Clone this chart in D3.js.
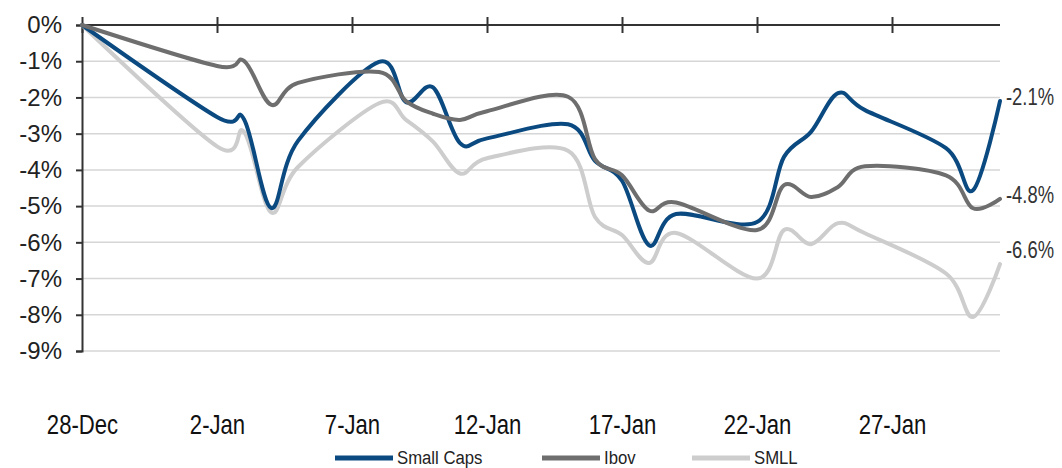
<!DOCTYPE html>
<head>
    <meta charset="utf-8">
    <script src="https://d3js.org/d3.v7.min.js"></script>
    <style>
        body { margin: 0; background: #fff; }
        svg { display: block; }
    </style>
</head>
<body>
    <script>
        // daily closes, % change since 28-Dec
        const dates = ["2017-12-28", "2018-01-02", "2018-01-03", "2018-01-04", "2018-01-05", "2018-01-08",
            "2018-01-09", "2018-01-10", "2018-01-11", "2018-01-12", "2018-01-15", "2018-01-16", "2018-01-17",
            "2018-01-18", "2018-01-19", "2018-01-22", "2018-01-23", "2018-01-24", "2018-01-25", "2018-01-26",
            "2018-01-29", "2018-01-30", "2018-01-31"];
        const smallCaps = [0, -2.54, -2.6, -5.05, -3.2, -1.02, -2.13, -1.72, -3.26, -3.13, -2.74, -3.75, -4.3,
            -6.08, -5.22, -5.44, -3.64, -2.95, -1.88, -2.35, -3.4, -4.56, -2.1];
        const ibov = [0, -1.13, -0.99, -2.2, -1.6, -1.3, -2.1, -2.45, -2.62, -2.38, -1.98, -3.7, -4.15,
            -5.12, -4.9, -5.66, -4.42, -4.75, -4.47, -3.9, -4.15, -5.06, -4.8];
        const smll = [0, -3.35, -2.95, -5.17, -3.92, -2.16, -2.62, -3.22, -4.1, -3.68, -3.47, -5.3, -5.8,
            -6.57, -5.74, -7.0, -5.66, -6.05, -5.47, -5.75, -6.86, -8.06, -6.6];
        const seriesNames = ["Small Caps", "Ibov", "SMLL"];
        const seriesColors = ["#0b4a80", "#6e6e6e", "#cdcdcd"];
        const endLabels = ["-2.1%", "-4.8%", "-6.6%"];
        const yTicks = [0, -1, -2, -3, -4, -5, -6, -7, -8, -9];
        const xTickDates = ["2017-12-28", "2018-01-02", "2018-01-07", "2018-01-12", "2018-01-17", "2018-01-22", "2018-01-27"];

        const parse = d3.timeParse("%Y-%m-%d");
        const W = 1062, H = 468;
        const font = "Liberation Sans, Arial, sans-serif";

        // squeeze text horizontally (the original uses a narrow face)
        function narrow(sel, k) {
            sel.each(function () {
                const t = d3.select(this);
                const tx = +t.attr("x") || 0, ty = +t.attr("y") || 0;
                t.attr("x", 0).attr("y", 0)
                    .attr("transform", "translate(" + tx + "," + ty + ") scale(" + k + ",1)");
            });
        }

        const svg = d3.select("body").append("svg").attr("width", W).attr("height", H);

        const x = d3.scaleTime()
            .domain([parse("2017-12-28"), parse("2018-01-31")])
            .range([82, 1000]);
        const y = d3.scaleLinear().domain([0, -9]).range([25, 351]);

        // gridlines
        svg.append("g")
            .selectAll("line")
            .data(yTicks.slice(1))
            .enter().append("line")
            .attr("x1", x.range()[0]).attr("x2", x.range()[1])
            .attr("y1", d => y(d)).attr("y2", d => y(d))
            .attr("stroke", "#d6d6d6")
            .attr("stroke-width", 1.5);

        // y axis
        const yAxis = svg.append("g")
            .attr("transform", "translate(82,0)")
            .call(d3.axisLeft(y).tickValues(yTicks).tickSize(6).tickPadding(14).tickFormat(d => d + "%"));
        yAxis.select(".domain").attr("stroke", "#333").attr("stroke-width", 2);
        yAxis.selectAll(".tick line").attr("stroke", "#333").attr("stroke-width", 2);
        yAxis.selectAll("text")
            .attr("font-family", font)
            .attr("font-size", 24)
            .attr("fill", "#222");

        // x axis line at 0% with ticks crossing it
        const xTicks = xTickDates.map(parse);
        const xAxis = svg.append("g")
            .attr("transform", "translate(0,33)")
            .call(d3.axisTop(x).tickValues(xTicks).tickSize(16).tickFormat(""));
        xAxis.select(".domain").remove();
        xAxis.selectAll(".tick line").attr("stroke", "#333").attr("stroke-width", 2);
        svg.append("line")
            .attr("x1", x.range()[0]).attr("x2", x.range()[1])
            .attr("y1", y(0)).attr("y2", y(0))
            .attr("stroke", "#333").attr("stroke-width", 2);

        // x labels below the plot
        const xLab = svg.append("g")
            .attr("transform", "translate(0,412)")
            .call(d3.axisBottom(x).tickValues(xTicks).tickSize(0).tickFormat(d3.timeFormat("%-d-%b")));
        xLab.select(".domain").remove();
        xLab.selectAll("text")
            .attr("font-family", font)
            .attr("font-size", 27)
            .attr("fill", "#111")
            .call(narrow, 0.82);

        // lines
        const xs = dates.map(parse);
        const allSeries = [smallCaps, ibov, smll];
        const line = d3.line()
            .x((d, i) => x(xs[i]))
            .y(d => y(d))
            .curve(d3.curveCardinal);

        const drawOrder = [2, 0, 1];
        svg.append("g")
            .selectAll("path")
            .data(drawOrder)
            .enter().append("path")
            .attr("d", i => line(allSeries[i]))
            .attr("fill", "none")
            .attr("stroke", i => seriesColors[i])
            .attr("stroke-width", 4)
            .attr("stroke-linejoin", "round")
            .attr("stroke-linecap", "round");

        // end labels
        svg.append("g")
            .selectAll("text")
            .data(endLabels)
            .enter().append("text")
            .attr("x", 1006)
            .attr("y", (d, i) => y(allSeries[i][allSeries[i].length - 1]) - (i === 2 ? 14 : 4))
            .attr("dominant-baseline", "central")
            .attr("font-family", font)
            .attr("font-size", 23)
            .attr("fill", "#333")
            .text(d => d)
            .call(narrow, 0.8);

        // legend (sits right at the bottom edge, as in the original)
        const legendX = [335, 542, 692];
        const leg = svg.append("g")
            .selectAll("g")
            .data(seriesNames)
            .enter().append("g")
            .attr("transform", (d, i) => "translate(" + legendX[i] + ",458)");
        leg.append("line")
            .attr("x1", 0).attr("x2", 58)
            .attr("stroke", (d, i) => seriesColors[i])
            .attr("stroke-width", 5);
        leg.append("text")
            .attr("x", 62)
            .attr("y", 6)
            .attr("font-family", font)
            .attr("font-size", 19)
            .attr("fill", "#222")
            .text(d => d)
            .call(narrow, 0.88);
    </script>
</body>
